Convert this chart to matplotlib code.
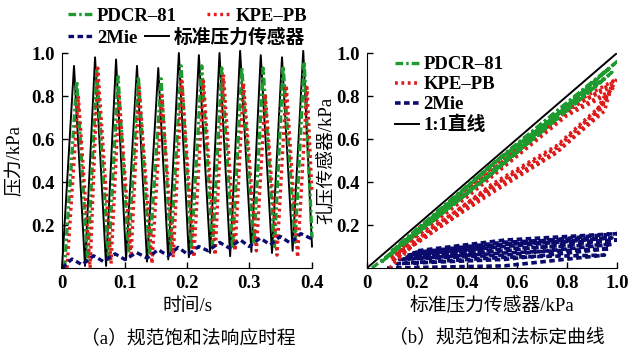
import matplotlib.pyplot as plt

plt.rcParams['font.family'] = ['Liberation Serif', 'Noto Sans CJK SC']
plt.rcParams['font.size'] = 13.5
plt.rcParams['font.weight'] = 'bold'
plt.rcParams['lines.scale_dashes'] = False

# ---- (a) 时程数据: 各曲线的峰/谷点 (s, kPa)
t_std = [0.000, 0.0192, 0.0368, 0.0529, 0.0705, 0.0865, 0.1025, 0.1200, 0.1360, 0.1540,
         0.1700, 0.1870, 0.2030, 0.2190, 0.2370, 0.2520, 0.2690, 0.2850, 0.3030, 0.3180,
         0.3360, 0.3520, 0.3690, 0.3860, 0.4000]
p_std = [0.00, 0.94, 0.01, 0.98, 0.01, 0.97, 0.04, 0.94, 0.03, 0.93,
         0.04, 1.00, 0.05, 0.99, 0.07, 1.00, 0.055, 1.01, 0.075, 0.99,
         0.07, 0.98, 0.08, 1.01, 0.10]

t_pdcr = [0.004, 0.0235, 0.0410, 0.0556, 0.0745, 0.0897, 0.1065, 0.1222, 0.1400, 0.1586,
          0.1740, 0.1906, 0.2070, 0.2236, 0.2410, 0.2556, 0.2730, 0.2877, 0.3070, 0.3218,
          0.3400, 0.3538, 0.3730, 0.3875, 0.4000]
p_pdcr = [0.00, 0.87, 0.03, 0.92, 0.04, 0.89, 0.08, 0.89, 0.06, 0.88,
          0.08, 0.94, 0.09, 0.94, 0.10, 0.93, 0.09, 0.93, 0.11, 0.93,
          0.10, 0.94, 0.12, 0.96, 0.14]

t_kpe = [0.008, 0.0261, 0.0450, 0.0572, 0.0785, 0.0913, 0.1105, 0.1234, 0.1440, 0.1597,
         0.1780, 0.1917, 0.2110, 0.2263, 0.2450, 0.2584, 0.2770, 0.2904, 0.3110, 0.3252,
         0.3440, 0.3588, 0.3770, 0.3920, 0.4000]
p_kpe = [0.00, 0.80, 0.00, 0.93, 0.02, 0.80, 0.05, 0.84, 0.02, 0.80,
         0.05, 0.87, 0.05, 0.87, 0.06, 0.90, 0.08, 0.86, 0.08, 0.81,
         0.06, 0.85, 0.05, 0.84, 0.35]

t_2mie = [0.000, 0.0160, 0.0320, 0.0505, 0.0657, 0.0849, 0.1009, 0.1193, 0.1362, 0.1538,
          0.1698, 0.1858, 0.2019, 0.2187, 0.2339, 0.2523, 0.2675, 0.2852, 0.2996, 0.3172,
          0.3332, 0.3492, 0.3652, 0.3821, 0.4000]
p_2mie = [0.000, 0.042, 0.015, 0.057, 0.031, 0.066, 0.039, 0.072, 0.046, 0.085,
          0.057, 0.096, 0.062, 0.100, 0.080, 0.119, 0.093, 0.131, 0.100, 0.139,
          0.108, 0.147, 0.116, 0.160, 0.135]

# ---- (b) 标定曲线: 标准压力传感器 vs 孔压传感器 (kPa)
b_pdcr_x = [0.02, 0.50, 0.98, 0.50, 0.06, 0.48, 0.95, 0.52, 0.08, 0.50, 1.00, 0.55, 0.10, 0.45, 0.97, 0.50, 0.12]
b_pdcr_y = [0.00, 0.44, 0.91, 0.48, 0.03, 0.42, 0.88, 0.50, 0.05, 0.44, 0.96, 0.53, 0.08, 0.40, 0.93, 0.48, 0.10]

b_kpe_x = [0.09, 0.24, 0.50, 0.76, 0.93, 0.99, 0.80, 0.60, 0.40, 0.20, 0.10,
           0.24, 0.50, 0.76, 0.92, 0.97, 0.80, 0.60, 0.40, 0.20, 0.11,
           0.25, 0.50, 0.75, 0.90, 0.95, 0.80, 0.60, 0.40, 0.20, 0.12,
           0.26, 0.50, 0.76, 0.94, 1.00, 0.80, 0.60, 0.40, 0.20, 0.12,
           0.23, 0.50, 0.77, 0.95, 0.98, 0.80, 0.60, 0.40, 0.20, 0.10]
b_kpe_y = [0.00, 0.17, 0.38, 0.56, 0.74, 0.85, 0.74, 0.55, 0.36, 0.17, 0.05,
           0.15, 0.36, 0.54, 0.71, 0.82, 0.72, 0.53, 0.34, 0.15, 0.04,
           0.16, 0.35, 0.53, 0.69, 0.80, 0.71, 0.52, 0.33, 0.15, 0.05,
           0.18, 0.39, 0.57, 0.76, 0.88, 0.75, 0.56, 0.37, 0.18, 0.06,
           0.14, 0.37, 0.55, 0.73, 0.86, 0.73, 0.54, 0.35, 0.16, 0.03]

b_2mie_x = [0.08, 0.55, 0.95, 0.55, 0.12, 0.55, 0.97, 0.55, 0.13, 0.55, 0.98, 0.55, 0.15,
            0.55, 1.00, 0.55, 0.16, 0.55, 0.98, 0.55, 0.18, 0.55, 1.00, 0.55, 0.20]
b_2mie_y = [0.00, 0.01, 0.06, 0.05, 0.02, 0.04, 0.09, 0.07, 0.04, 0.06, 0.11, 0.09, 0.05,
            0.08, 0.13, 0.11, 0.06, 0.10, 0.14, 0.12, 0.07, 0.11, 0.16, 0.13, 0.08]

c_green = '#1e9b2e'
c_red = '#dd1c1c'
c_blue = '#0b0b6e'
ls_green = (0, (5.5, 2.2, 1.8, 2.2))
ls_red = (0, (2.0, 2.6))
ls_blue = (0, (4.0, 2.5))

fig = plt.figure(figsize=(6.34, 3.52), dpi=100)
ax1 = fig.add_axes([0.0978, 0.2386, 0.3943, 0.6108])
ax2 = fig.add_axes([0.5789, 0.2386, 0.3943, 0.6108])

l_std, = ax1.plot(t_std, p_std, color='black', lw=1.4, clip_on=False)
l_pdcr, = ax1.plot(t_pdcr, p_pdcr, color=c_green, lw=2.4, ls=ls_green, clip_on=False)
l_kpe, = ax1.plot(t_kpe, p_kpe, color=c_red, lw=2.4, ls=ls_red, clip_on=False)
l_2mie, = ax1.plot(t_2mie, p_2mie, color=c_blue, lw=2.4, ls=ls_blue, clip_on=False)

ax2.plot(b_2mie_x, b_2mie_y, color=c_blue, lw=2.6, ls=ls_blue, label='2Mie')
ax2.plot(b_kpe_x, b_kpe_y, color=c_red, lw=2.6, ls=ls_red, label='KPE–PB')
ax2.plot(b_pdcr_x, b_pdcr_y, color=c_green, lw=2.4, ls=ls_green, label='PDCR–81')
ax2.plot([0, 1], [0, 1], color='black', lw=1.4, label='1:1直线')

for ax in (ax1, ax2):
    ax.spines['top'].set_visible(False)
    ax.spines['right'].set_visible(False)
    ax.set_ylim(0, 1.0)
    ax.set_yticks([0.2, 0.4, 0.6, 0.8, 1.0])
    ax.set_yticklabels(['0.2', '0.4', '0.6', '0.8', '1.0'])
    ax.tick_params(direction='in', length=4, width=1, pad=5)

ax1.set_xlim(0, 0.4)
ax1.set_xticks([0, 0.1, 0.2, 0.3, 0.4])
ax1.set_xticklabels(['0', '0.1', '0.2', '0.3', '0.4'])
ax2.set_xlim(0, 1.0)
ax2.set_xticks([0, 0.2, 0.4, 0.6, 0.8, 1.0])
ax2.set_xticklabels(['0', '0.2', '0.4', '0.6', '0.8', '1.0'])

ax1.set_xlabel('时间/s', labelpad=4, fontweight='medium')
ax1.set_ylabel('压力/kPa', labelpad=6, fontweight='medium')
ax2.set_xlabel('标准压力传感器/kPa', labelpad=4, fontweight='medium')
ax2.set_ylabel('孔压传感器/kPa', labelpad=1, fontweight='medium')

# (a) 图例: 两行
fig.legend([l_pdcr, l_kpe], ['PDCR–81', 'KPE–PB'], loc='upper left',
           bbox_to_anchor=(0.095, 1.0), ncol=2, frameon=False, handlelength=1.3,
           handletextpad=0.25, columnspacing=1.6, borderaxespad=0)
fig.legend([l_2mie, l_std], ['2Mie', '标准压力传感器'], loc='upper left',
           bbox_to_anchor=(0.095, 0.94), ncol=2, frameon=False, handlelength=1.3,
           handletextpad=0.25, columnspacing=0.4, borderaxespad=0)

h, lab = ax2.get_legend_handles_labels()
order = [2, 1, 0, 3]
ax2.legend([h[i] for i in order], [lab[i] for i in order], loc='upper left',
           bbox_to_anchor=(0.08, 1.02), frameon=False, handlelength=1.3,
           handletextpad=0.25, labelspacing=0.15, borderaxespad=0)

fig.text(188 / 634, 1 - 338 / 352, '（a）规范饱和法响应时程', ha='center', va='center',
         fontweight='medium')
fig.text(497 / 634, 1 - 338 / 352, '（b）规范饱和法标定曲线', ha='center', va='center',
         fontweight='medium')

fig.savefig('out.png', dpi=100)
